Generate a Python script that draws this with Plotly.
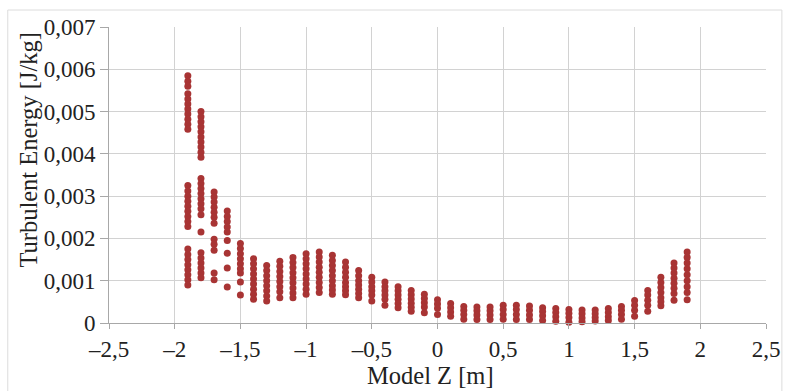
import plotly.graph_objects as go

# Axial positions of the probe columns [m]
z_columns = [-1.9, -1.8, -1.7, -1.6, -1.5, -1.4, -1.3, -1.2, -1.1, -1.0,
             -0.9, -0.8, -0.7, -0.6, -0.5, -0.4, -0.3, -0.2, -0.1, 0.0,
             0.1, 0.2, 0.3, 0.4, 0.5, 0.6, 0.7, 0.8, 0.9, 1.0,
             1.1, 1.2, 1.3, 1.4, 1.5, 1.6, 1.7, 1.8, 1.9]

# Turbulent energy read per column, in units of 0.001 J/kg
tke_milli = [
    [5.85, 5.72, 5.6, 5.42, 5.3, 5.18, 5.06, 4.94, 4.82, 4.7, 4.58,
     3.25, 3.12, 3.0, 2.88, 2.76, 2.64, 2.52, 2.4, 2.28,
     1.75, 1.62, 1.5, 1.38, 1.26, 1.14, 1.02, 0.9],
    [5.0, 4.88, 4.76, 4.64, 4.52, 4.4, 4.28, 4.16, 4.04, 3.92,
     3.42, 3.3, 3.18, 3.06, 2.94, 2.82, 2.7, 2.56, 2.15,
     1.66, 1.54, 1.42, 1.3, 1.18, 1.07],
    [3.1, 2.98, 2.86, 2.74, 2.62, 2.5, 2.36, 1.98, 1.86, 1.72, 1.18, 1.02],
    [2.65, 2.52, 2.4, 2.27, 2.15, 1.95, 1.65, 1.3, 0.85],
    [1.88, 1.76, 1.64, 1.52, 1.4, 1.28, 1.18, 0.97, 0.66],
    [1.52, 1.4, 1.28, 1.16, 1.04, 0.92, 0.8, 0.68, 0.56],
    [1.36, 1.24, 1.12, 1.0, 0.88, 0.76, 0.64, 0.52],
    [1.46, 1.34, 1.22, 1.1, 0.98, 0.86, 0.74, 0.6],
    [1.55, 1.43, 1.31, 1.19, 1.07, 0.95, 0.83, 0.71, 0.6],
    [1.64, 1.52, 1.4, 1.28, 1.16, 1.04, 0.92, 0.8, 0.68],
    [1.68, 1.56, 1.44, 1.32, 1.2, 1.08, 0.96, 0.84, 0.72],
    [1.6, 1.48, 1.36, 1.24, 1.12, 1.0, 0.88, 0.78, 0.68],
    [1.44, 1.32, 1.2, 1.08, 0.96, 0.86, 0.76, 0.67],
    [1.24, 1.12, 1.0, 0.9, 0.8, 0.7, 0.6],
    [1.08, 0.97, 0.86, 0.76, 0.66, 0.52],
    [0.97, 0.86, 0.76, 0.66, 0.56, 0.42],
    [0.86, 0.76, 0.66, 0.56, 0.46, 0.36],
    [0.77, 0.67, 0.57, 0.47, 0.37, 0.28],
    [0.68, 0.58, 0.48, 0.38, 0.24],
    [0.55, 0.45, 0.35, 0.2],
    [0.46, 0.36, 0.26, 0.16],
    [0.39, 0.3, 0.2, 0.09],
    [0.38, 0.29, 0.19, 0.08],
    [0.38, 0.29, 0.19, 0.08],
    [0.42, 0.32, 0.2, 0.09],
    [0.42, 0.32, 0.2, 0.08],
    [0.4, 0.3, 0.19, 0.08],
    [0.36, 0.27, 0.17, 0.06],
    [0.34, 0.25, 0.15, 0.04],
    [0.32, 0.23, 0.13, 0.02],
    [0.31, 0.22, 0.12, 0.03],
    [0.31, 0.22, 0.13, 0.05],
    [0.34, 0.25, 0.15, 0.06],
    [0.39, 0.3, 0.2, 0.09],
    [0.53, 0.42, 0.3, 0.16],
    [0.77, 0.66, 0.54, 0.42, 0.28],
    [1.08, 0.96, 0.84, 0.72, 0.6, 0.5, 0.41],
    [1.42, 1.3, 1.18, 1.06, 0.94, 0.82, 0.7, 0.54],
    [1.68, 1.55, 1.42, 1.28, 1.14, 1.0, 0.86, 0.72, 0.55],
]

x_tick_vals = [-2.5, -2, -1.5, -1, -0.5, 0, 0.5, 1, 1.5, 2, 2.5]
x_tick_text = ["–2,5", "–2", "–1,5", "–1", "–0,5", "0", "0,5", "1", "1,5", "2", "2,5"]
y_tick_vals = [0, 0.001, 0.002, 0.003, 0.004, 0.005, 0.006, 0.007]
y_tick_text = ["0", "0,001", "0,002", "0,003", "0,004", "0,005", "0,006", "0,007"]

xs, ys = [], []
for z, col in zip(z_columns, tke_milli):
    for v in col:
        xs.append(z)
        ys.append(v * 1e-3)

FONT = "Liberation Serif, Times New Roman, Times, serif"
TICK_SIZE = 23
TITLE_SIZE = 24.5
fig = go.Figure()
fig.add_trace(go.Scatter(
    x=xs, y=ys, mode="markers",
    marker=dict(size=7, color="#a83434", line=dict(width=0)),
    showlegend=False, cliponaxis=False,
))

fig.update_layout(
    width=792, height=391,
    margin=dict(l=109, r=21, t=27, b=68),
    paper_bgcolor="white", plot_bgcolor="white",
    font=dict(family=FONT, size=TICK_SIZE, color="#222222"),
    xaxis=dict(range=[-2.5, 2.5], tickvals=x_tick_vals, ticktext=x_tick_text,
               showgrid=True, gridcolor="#d2d2d2", gridwidth=1,
               zeroline=False, showline=True, linecolor="#a8a8a8", linewidth=1,
               ticks="outside", ticklen=5, tickcolor="#a8a8a8",
               ticklabelstandoff=0),
    yaxis=dict(range=[0, 0.007], tickvals=y_tick_vals, ticktext=y_tick_text,
               showgrid=True, gridcolor="#d2d2d2", gridwidth=1,
               zeroline=False, showline=True, linecolor="#a8a8a8", linewidth=1,
               ticks="outside", ticklen=8, tickcolor="#a8a8a8"),
    annotations=[
        dict(text="Turbulent Energy [J/kg]", textangle=-90,
             xref="paper", yref="paper", x=(27 - 109) / 662, y=(323 - 150) / 296,
             xanchor="center", yanchor="middle", showarrow=False,
             font=dict(family=FONT, size=TITLE_SIZE, color="#222222")),
        dict(text="Model Z [m]",
             xref="paper", yref="paper", x=(433 - 109) / 662, y=(323 - 391) / 296,
             xanchor="center", yanchor="bottom", showarrow=False,
             font=dict(family=FONT, size=TITLE_SIZE, color="#222222")),
    ],
    shapes=[
        dict(type="rect", xref="paper", yref="paper",
             x0=(7 - 109) / 662, x1=(787 - 109) / 662,
             y0=(323 - 400) / 296, y1=(323 - 10) / 296,
             line=dict(color="#dcdcdc", width=1), layer="below"),
    ],
)

fig.write_html("out.html")
